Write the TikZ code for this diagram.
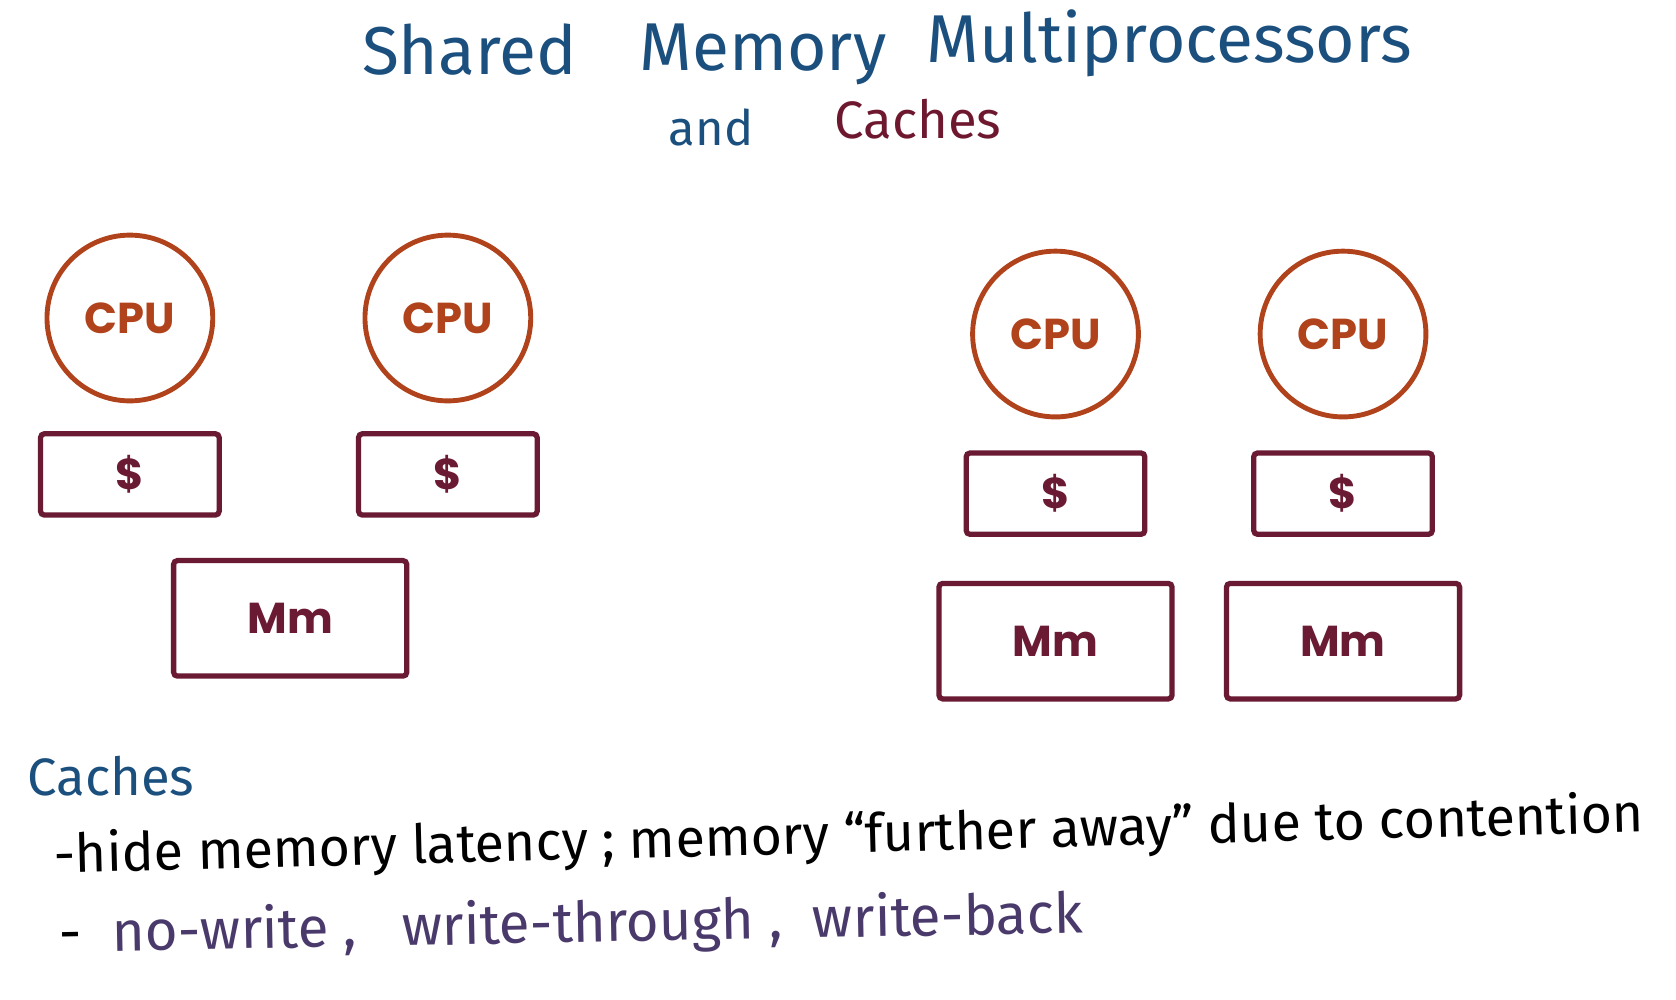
\documentclass[tikz,border=0pt]{standalone}
\usepackage{fontspec}
\setmainfont{Fira Sans}
\newfontfamily\boxfont{Poppins}
\usetikzlibrary{positioning}
\definecolor{titleblue}{HTML}{1B4F7E}
\definecolor{cachered}{HTML}{6E1830}
\definecolor{cpuorange}{HTML}{B0431B}
\definecolor{boxmaroon}{HTML}{6A1A33}
\definecolor{notepurple}{HTML}{4A3A6C}
\tikzset{
  cpu/.style   = {circle, draw=cpuorange, line width=1.3pt, minimum size=1.55cm,
                  text=cpuorange, font=\boxfont\bfseries\fontsize{11.5}{11.5}\selectfont},
  cache/.style = {draw=boxmaroon, line width=1.4pt, rounded corners=1pt,
                  minimum width=1.67cm, minimum height=0.76cm, text=boxmaroon,
                  font=\boxfont\bfseries\fontsize{11.5}{11.5}\selectfont},
  mem/.style   = {cache, minimum width=2.18cm, minimum height=1.08cm},
  title/.style = {anchor=base west, inner sep=0pt, titleblue,
                  font=\fontsize{18}{18}\selectfont},
  note/.style  = {anchor=base west, inner sep=0pt, font=\fontsize{14.3}{14.3}\selectfont},
}

\begin{document}
\begin{tikzpicture}[x=0.01cm,y=-0.01cm]
  \useasboundingbox (0,0) rectangle (1568,935);
  % heading
  \node[title] (shared) at (338,70) {Shared};
  \node[title] (memory) at (598,66) {Memory};
  \node[title] (multi) at (866,58) {Multiprocessors};
  \node[title, font=\fontsize{13}{13}\selectfont] (and) at (625,136) {and};
  \node[title, cachered, font=\fontsize{14}{14}\selectfont] (caches) at (780,130) {Caches};

  % one shared memory
  \node[cpu] (cpuA) at (121.5,297.5) {CPU};
  \node[cpu] (cpuB) at (419,297.5) {CPU};
  \node[cache, below=0.26cm of cpuA] (cacheA) {\$};
  \node[cache, below=0.26cm of cpuB] (cacheB) {\$};
  \node[mem] (memA) at (271.5,578.5) {Mm};

  % memory per processor
  \node[cpu] (cpuC) at (987.5,312.5) {CPU};
  \node[cpu] (cpuD) at (1256.5,312.5) {CPU};
  \node[cache, below=0.29cm of cpuC] (cacheC) {\$};
  \node[cache, below=0.29cm of cpuD] (cacheD) {\$};
  \node[mem, below=0.41cm of cacheC] (memC) {Mm};
  \node[mem, below=0.41cm of cacheD] (memD) {Mm};

  % notes
  \node[note, titleblue, font=\fontsize{14}{14}\selectfont] (notes) at (25,744) {Caches};
  \node[note, rotate=1.5] (hide) at (50,817) {-hide memory latency ;};
  \node[note, rotate=1.5] (away) at ([xshift=0.12cm]hide.base east)
    {memory ``further away'' due to contention};
  \node[note, rotate=1.1, notepurple, font=\fontsize{15}{15}\selectfont] (write) at (55,891)
    {{\color{black}-}\ \ no-write ,\ \ \ write-through\ ,\ \ write-back};
\end{tikzpicture}
\end{document}
